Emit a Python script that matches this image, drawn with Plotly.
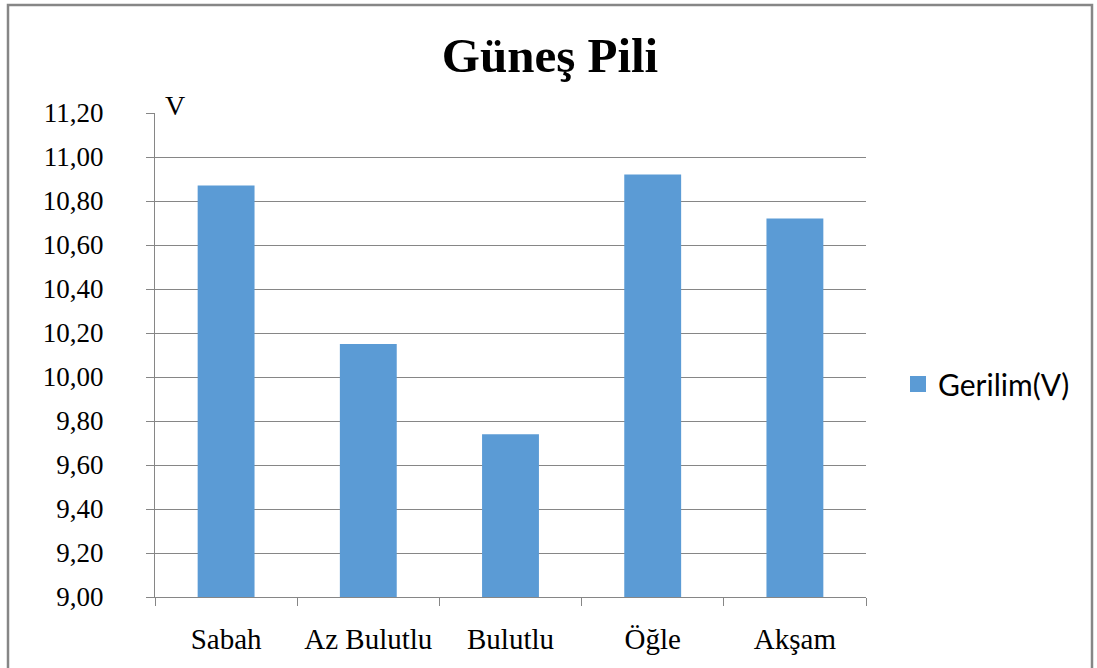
import plotly.graph_objects as go

categories = ["Sabah", "Az Bulutlu", "Bulutlu", "Öğle", "Akşam"]
values = [10.87, 10.15, 9.74, 10.92, 10.72]
series_name = "Gerilim(V)"
title_text = "Güneş Pili"
y_unit = "V"
y_ticks = [9.0, 9.2, 9.4, 9.6, 9.8, 10.0, 10.2, 10.4, 10.6, 10.8, 11.0, 11.2]

W, H = 1097, 668
L, R, T, B = 155, 231, 113, 71
pw, ph = W - L - R, H - T - B

grid = "#868686"
bar_color = "#5B9BD5"
serif = "Liberation Serif, Times New Roman, serif"

fig = go.Figure()
fig.add_trace(go.Bar(
    x=categories, y=values, name=series_name,
    marker=dict(color=bar_color, line=dict(width=0)),
    showlegend=False,
))
# legend entry (square marker)
fig.add_trace(go.Scatter(
    x=[categories[0]], y=[None], mode="markers", name=series_name,
    marker=dict(symbol="square", size=16, color=bar_color),
    showlegend=True, hoverinfo="skip",
))

def px_x(x):
    return (x - L) / pw

def px_y(y):
    return (H - B - y) / ph

fig.update_layout(
    width=W, height=H,
    margin=dict(l=L, r=R, t=T, b=B, autoexpand=False),
    paper_bgcolor="white", plot_bgcolor="white",
    separators=",.",
    bargap=0.6,
    title=dict(text="<b>" + title_text + "</b>", x=550 / W, xanchor="center",
               xref="container", y=1 - 55 / H, yanchor="middle",
               font=dict(family=serif, size=49, color="black")),
    xaxis=dict(
        showgrid=False, showline=True, linecolor=grid, linewidth=1,
        ticks="outside", tickson="boundaries", ticklen=8, tickcolor=grid,
        tickfont=dict(family=serif, size=29, color="black"),
        ticklabelstandoff=16,
    ),
    yaxis=dict(
        range=[9.0, 11.2], tickvals=y_ticks, tickformat=".2f",
        showgrid=True, gridcolor=grid, gridwidth=1,
        showline=True, linecolor=grid, linewidth=1,
        ticks="outside", ticklen=8, tickcolor=grid,
        tickfont=dict(family=serif, size=27, color="black"),
        ticklabelstandoff=37, zeroline=False,
    ),
    legend=dict(x=px_x(898), y=px_y(384), xanchor="left", yanchor="middle",
                font=dict(family="Lato, Open Sans, sans-serif", size=30, color="black"),
                itemwidth=30, bgcolor="rgba(0,0,0,0)"),
    annotations=[dict(text=y_unit, xref="paper", yref="paper", x=px_x(163), y=px_y(113),
                      xanchor="left", yanchor="bottom", showarrow=False, yshift=-10,
                      font=dict(family=serif, size=28, color="black"))],
    shapes=[dict(type="rect", xref="paper", yref="paper",
                 x0=px_x(8), x1=px_x(1092), y0=px_y(700), y1=px_y(5),
                 line=dict(color=grid, width=2.5), fillcolor="rgba(0,0,0,0)", layer="below")],
)

fig.write_html("out.html", config={"displayModeBar": False},
               post_script="document.body.style.margin='0';document.body.style.overflow='hidden';")
